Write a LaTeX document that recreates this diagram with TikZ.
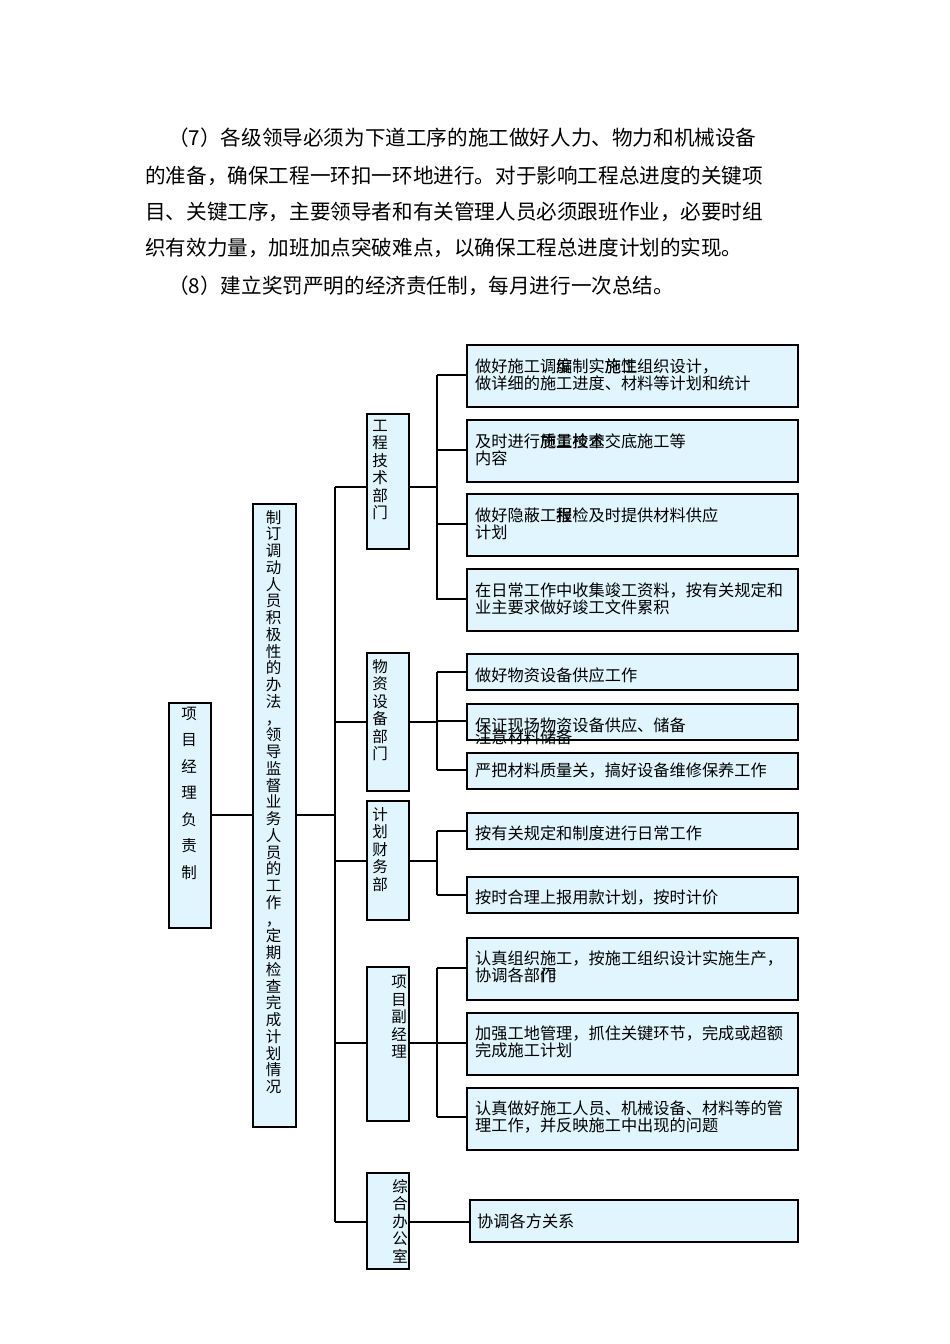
\documentclass[tikz,border=0pt]{standalone}
\usepackage{fontspec}
\setmainfont{Noto Sans CJK SC}
\begin{document}
\begin{tikzpicture}[x=1pt,y=-1pt,
  bx/.style={draw=black,line width=1.6pt,fill=cyan!12,anchor=north west,inner sep=0pt},
  tx/.style={anchor=west,inner sep=0pt,align=left,font=\fontsize{16.2}{17}\selectfont},
  vt/.style={inner sep=0pt,align=center,font=\fontsize{15.5}{17.5}\selectfont},
  ln/.style={line width=1.3pt},
  para/.style={anchor=west,inner sep=0pt,font=\fontsize{20.6}{20}\selectfont}]
\useasboundingbox (0,0) rectangle (950,1344);
% paragraph
\node[para] (p1) at (168,138) {（7）各级领导必须为下道工序的施工做好人力、物力和机械设备};
\node[para] (p2) at (145,176) {的准备，确保工程一环扣一环地进行。对于影响工程总进度的关键项};
\node[para] (p3) at (145,212) {目、关键工序，主要领导者和有关管理人员必须跟班作业，必要时组};
\node[para] (p4) at (145,248) {织有效力量，加班加点突破难点，以确保工程总进度计划的实现。};
\node[para] (p5) at (168,286) {（8）建立奖罚严明的经济责任制，每月进行一次总结。};
% left boxes
\node[bx,minimum width=42,minimum height=225] (pm) at (168,702) {};
\node[vt,font=\fontsize{15.5}{26.5}\selectfont] (pmt) at (189,793) {项\\目\\经\\理\\负\\责\\制};
\node[bx,minimum width=43,minimum height=623] (mid) at (252,503) {};
\node[vt,font=\fontsize{15.5}{16.75}\selectfont] (midt) at (273.5,802) {制\\订\\调\\动\\人\\员\\积\\极\\性\\的\\办\\法\\，\\领\\导\\监\\督\\业\\务\\人\\员\\的\\工\\作\\，\\定\\期\\检\\查\\完\\成\\计\\划\\情\\况};
\coordinate (tr1) at (335,487);
\coordinate (tr2) at (335,1222);
\draw[ln] (pm.east |- 0,815) -- (mid.west |- 0,815);
\draw[ln] (mid.east |- 0,815) -- (335,815);
\draw[ln] (tr1) -- (tr2);
% departments
\node[bx,minimum width=42,minimum height=135] (d1) at (366,413) {};
\node[vt,anchor=north] (d1t) at (380,420) {工\\程\\技\\术\\部\\门};
\node[bx,minimum width=42,minimum height=138] (d2) at (366,652) {};
\node[vt,anchor=north] (d2t) at (380,659) {物\\资\\设\\备\\部\\门};
\node[bx,minimum width=42,minimum height=119] (d3) at (366,800) {};
\node[vt,anchor=north] (d3t) at (380,807) {计\\划\\财\\务\\部};
\node[bx,minimum width=42,minimum height=154] (d4) at (366,966) {};
\node[vt,anchor=north] (d4t) at (399,975) {项\\目\\副\\经\\理};
\node[bx,minimum width=42,minimum height=96] (d5) at (366,1172) {};
\node[vt,anchor=north] (d5t) at (400,1179) {综\\合\\办\\公\\室};
\draw[ln] (tr1) -- (d1.west |- tr1);
\draw[ln] (335,722) -- (d2.west |- 0,722);
\draw[ln] (335,861) -- (d3.west |- 0,861);
\draw[ln] (335,1043) -- (d4.west |- 0,1043);
\draw[ln] (tr2) -- (d5.west |- tr2);
% sub boxes group 1
\node[bx,minimum width=331,minimum height=62] (s11) at (466,344) {};
\node[bx,minimum width=331,minimum height=62] (s12) at (466,419) {};
\node[bx,minimum width=331,minimum height=62] (s13) at (466,493) {};
\node[bx,minimum width=331,minimum height=62] (s14) at (466,568) {};
\node[tx] (t11) at (475,375) {做好施工调编制实施性组织设计，\\做详细的施工进度、材料等计划和统计};
\node[tx] (t11b) at (475,366.5) {\phantom{做好施工调}度\phantom{制实}施工};
\node[tx] (t12) at (475,450) {及时进行施工技术交底施工等\\内容};
\node[tx] (t12b) at (475,441.5) {\phantom{及时进行}质量检查};
\node[tx] (t13) at (475,524) {做好隐蔽工程检及时提供材料供应\\计划};
\node[tx] (t13b) at (475,515.5) {\phantom{做好隐蔽工}报};
\node[tx] (t14) at (475,599) {在日常工作中收集竣工资料，按有关规定和\\业主要求做好竣工文件累积};
\draw[ln] (d1.east |- tr1) -- (437,487);
\draw[ln] (437,375) -- (437,600);
\foreach \n/\y in {s11/375,s12/450,s13/524,s14/599} \draw[ln] (437,\y) -- (\n.west |- 0,\y);
% group 2
\node[bx,minimum width=331,minimum height=36] (s21) at (466,653) {};
\node[bx,minimum width=331,minimum height=36] (s22) at (466,703) {};
\node[bx,minimum width=331,minimum height=36] (s23) at (466,752) {};
\node[tx] (t21) at (475,675) {做好物资设备供应工作};
\node[tx] (t22b) at (475,737) {注意材料储备};
\node[tx] (t22) at (475,725) {保证现场物资设备供应、储备};
\node[tx] (t23) at (475,770) {严把材料质量关，搞好设备维修保养工作};
\draw[ln] (d2.east |- 0,722) -- (437,722);
\draw[ln] (437,672) -- (437,770);
\foreach \n/\y in {s21/672,s22/721,s23/770} \draw[ln] (437,\y) -- (\n.west |- 0,\y);
% group 3
\node[bx,minimum width=331,minimum height=36] (s31) at (466,812) {};
\node[bx,minimum width=331,minimum height=36] (s32) at (466,876) {};
\node[tx] (t31) at (475,833) {按有关规定和制度进行日常工作};
\node[tx] (t32) at (475,898) {按时合理上报用款计划，按时计价};
\draw[ln] (d3.east |- 0,861) -- (437,861);
\draw[ln] (437,831) -- (437,895);
\foreach \n/\y in {s31/831,s32/895} \draw[ln] (437,\y) -- (\n.west |- 0,\y);
% group 4
\node[bx,minimum width=331,minimum height=62] (s41) at (466,937) {};
\node[bx,minimum width=331,minimum height=62] (s42) at (466,1012) {};
\node[bx,minimum width=331,minimum height=62] (s43) at (466,1087) {};
\node[tx] (t41) at (475,967) {认真组织施工，按施工组织设计实施生产，\\协调各部门};
\node[tx] (t41b) at (475,975.5) {\phantom{协调各部}作};
\node[tx] (t42) at (475,1042) {加强工地管理，抓住关键环节，完成或超额\\完成施工计划};
\node[tx] (t43) at (475,1117) {认真做好施工人员、机械设备、材料等的管\\理工作，并反映施工中出现的问题};
\draw[ln] (d4.east |- 0,1043) -- (437,1043);
\draw[ln] (437,968) -- (437,1117);
\foreach \n/\y in {s41/968,s42/1043,s43/1117} \draw[ln] (437,\y) -- (\n.west |- 0,\y);
% group 5
\node[bx,minimum width=328,minimum height=42] (s51) at (469,1199) {};
\node[tx] (t51) at (477,1221) {协调各方关系};
\draw[ln] (d5.east |- tr2) -- (s51.west |- tr2);
\end{tikzpicture}
\end{document}
